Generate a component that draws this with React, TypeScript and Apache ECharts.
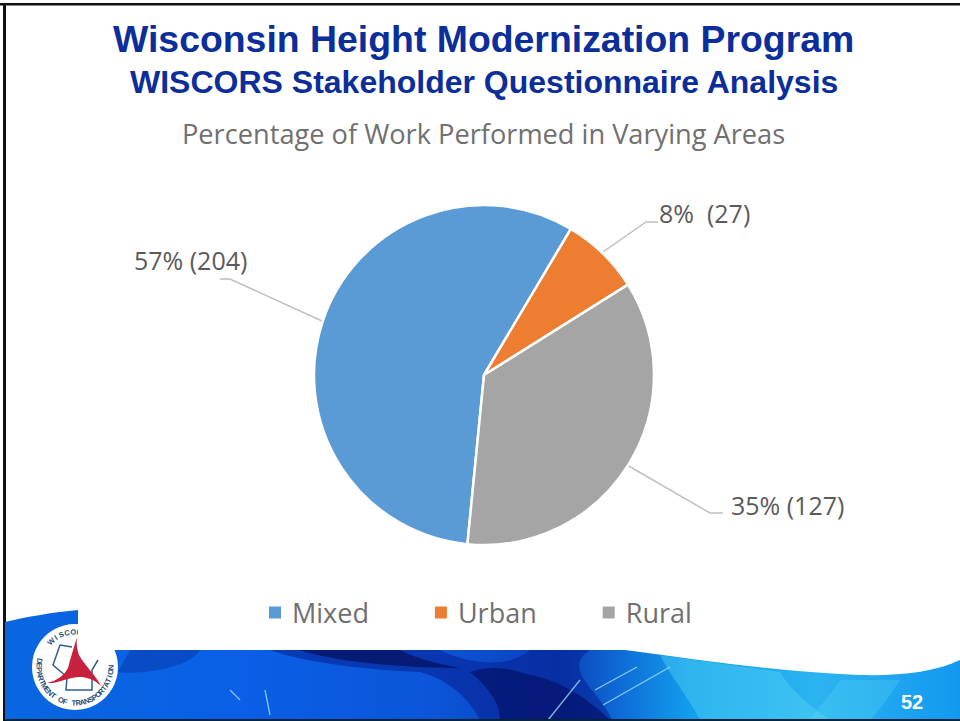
import React, { useEffect, useRef } from "react";
import * as echarts from "echarts";

const categories = ["Mixed", "Urban", "Rural"];
const counts = [204, 27, 127];
const percents = ["57% (204)", "8%  (27)", "35% (127)"];
const colors = ["#5B9BD5", "#ED7D31", "#A5A5A5"];
const titleLines = ["Wisconsin Height Modernization Program", "WISCORS Stakeholder Questionnaire Analysis"];
const subtitle = "Percentage of Work Performed in Varying Areas";
const pageNumber = "52";
const ringTop = "WISCONSIN";
const ringBottom = "DEPARTMENT OF TRANSPORTATION";

const W = 960;
const H = 721;
const wave = "M5 622 C25 617 55 612 78 610 L78 650 L625 650 C700 660 780 672 860 675 C900 676 935 672 960 660 L960 720 L5 720 Z";
const star = "M77 637 C73 650 70 660 68 668 C64 676 56 681 47 683 C58 684 70 676 82 677 C90 678 96 681 101 686 C96 675 84 665 79 655 C77 650 76 644 77 637 Z";
const wisconsin = "M60 645 L72 647 M60 645 L53 665 L67 677 L66 690 L92 690 L92 670 L98 660";
const darkBand = "M270 650 L440 650 C470 665 510 668 530 650 L590 650 C560 670 600 690 612 720 L480 720 C470 700 450 680 420 672 C370 670 310 664 270 650 Z";
const navyCore = "M300 650 L400 650 C420 660 440 664 460 668 C420 668 340 664 300 650 Z";
const navyCore2 = "M470 672 C490 665 510 668 530 675 C560 680 590 700 610 720 L500 720 C500 700 485 685 470 672 Z";
const midShade = "M130 650 L200 650 C190 668 140 675 118 672 Z";
const cyanPatch = "M660 655 L780 672 C790 690 815 710 830 720 L700 720 C690 700 670 675 660 655 Z";
const cyanPatch2 = "M840 680 L900 680 C890 695 880 710 870 720 L810 720 C820 705 835 690 840 680 Z";
echarts.graphic.registerShape("wave", (echarts.graphic as any).extendPath(wave, {}));
echarts.graphic.registerShape("star", (echarts.graphic as any).extendPath(star, {}));
echarts.graphic.registerShape("state", (echarts.graphic as any).extendPath(wisconsin, {}));
echarts.graphic.registerShape("darkBand", (echarts.graphic as any).extendPath(darkBand, {}));
echarts.graphic.registerShape("navyCore", (echarts.graphic as any).extendPath(navyCore, {}));
echarts.graphic.registerShape("navyCore2", (echarts.graphic as any).extendPath(navyCore2, {}));
echarts.graphic.registerShape("midShade", (echarts.graphic as any).extendPath(midShade, {}));
echarts.graphic.registerShape("cyanPatch", (echarts.graphic as any).extendPath(cyanPatch, {}));
echarts.graphic.registerShape("cyanPatch2", (echarts.graphic as any).extendPath(cyanPatch2, {}));

const streaks = [
  [[595, 690], [637, 667]],
  [[603, 705], [670, 667]],
  [[548, 720], [580, 680]],
  [[230, 690], [240, 700]],
  [[265, 690], [270, 715]],
];

const labelPlaces = [
  { x: 134, y: 260, line: [[322, 321], [230, 279], [220, 279]] },
  { x: 659, y: 213, line: [[603, 252], [646, 222], [658, 222]] },
  { x: 731, y: 505, line: [[627, 465], [710, 513], [723, 513]] },
];

function ringText(text: string, startDeg: number, stepDeg: number, radius: number, bottom: boolean) {
  return text.split("").map((ch, i) => {
    const deg = startDeg + i * stepDeg;
    const rad = (deg * Math.PI) / 180;
    return {
      type: "text",
      z: 12,
      x: 75 + radius * Math.sin(rad),
      y: 667 - radius * Math.cos(rad),
      rotation: bottom ? ((180 - deg) * Math.PI) / 180 : -rad,
      style: { text: ch, fill: "#1F4E79", font: "bold 7.5px 'Liberation Sans'", textAlign: "center", textVerticalAlign: "middle" },
    };
  });
}

export default function App() {
  const ref = useRef<HTMLDivElement>(null);
  useEffect(() => {
    document.body.style.margin = "0";
    const chart = echarts.init(ref.current!, null, { renderer: "svg" });
    chart.setOption({
      animation: false,
      backgroundColor: "#FFFFFF",
      title: [
        { text: titleLines[0], left: 108, top: 15, textStyle: { fontFamily: "Liberation Sans", fontWeight: "bold", fontSize: 37.4, color: "#0B2E9A" } },
        { text: titleLines[1], left: 125, top: 61, textStyle: { fontFamily: "Liberation Sans", fontWeight: "bold", fontSize: 32, color: "#0B2E9A" } },
        { text: subtitle, left: 177, top: 115, textStyle: { fontFamily: "Open Sans", fontWeight: "normal", fontSize: 27.2, color: "#707070" } },
      ],
      legend: {
        data: categories,
        left: 262,
        top: 594,
        icon: "rect",
        itemWidth: 14,
        itemHeight: 14,
        itemGap: 64,
        selectedMode: false,
        textStyle: { fontFamily: "Open Sans", fontSize: 27, color: "#6F6F6F", padding: [0, 0, 0, 5] },
      },
      graphic: [
        { type: "rect", z: 1, shape: { x: 0, y: 3, width: W, height: 2.5 }, style: { fill: "#111" } },
        { type: "rect", z: 1, shape: { x: 3, y: 3, width: 3, height: H - 3 }, style: { fill: "#111" } },
        {
          type: "wave",
          z: 2,
          style: {
            fill: new echarts.graphic.LinearGradient(0, 0, 1, 0, [
              { offset: 0, color: "#0A66E0" },
              { offset: 0.25, color: "#0A5FE6" },
              { offset: 0.45, color: "#0B55D8" },
              { offset: 0.58, color: "#0A3FB8" },
              { offset: 0.65, color: "#0F6FD8" },
              { offset: 0.72, color: "#12A0EC" },
              { offset: 0.85, color: "#2CB4F0" },
              { offset: 1, color: "#1398F0" },
            ]),
          },
        },
        { type: "midShade", z: 3, style: { fill: "rgba(5,35,140,0.35)" } },
        { type: "darkBand", z: 3, style: { fill: "rgba(6,35,150,0.6)" } },
        { type: "navyCore", z: 3, style: { fill: "rgba(4,15,90,0.7)" } },
        { type: "navyCore2", z: 3, style: { fill: "rgba(4,15,100,0.65)" } },
        { type: "cyanPatch", z: 3, style: { fill: "rgba(90,215,245,0.4)" } },
        { type: "cyanPatch2", z: 3, style: { fill: "rgba(90,215,245,0.3)" } },
        ...streaks.map((pts) => ({ type: "polyline", z: 4, shape: { points: pts }, style: { fill: "none", stroke: "rgba(170,235,250,0.75)", lineWidth: 1.3 } })),
        { type: "rect", z: 4, shape: { x: 6, y: 719, width: W - 6, height: 2 }, style: { fill: "#04243F" } },
        { type: "circle", z: 10, shape: { cx: 75, cy: 667, r: 43 }, style: { fill: "#FFFFFF" } },
        { type: "state", z: 11, style: { fill: "none", stroke: "#2F5F8F", lineWidth: 1.5 } },
        { type: "star", z: 11, style: { fill: "#C8203F" } },
        ...ringText(ringTop, -43, 10, 35, false),
        ...ringText(ringBottom, 280, -7, 36, true),
        { type: "rect", z: 13, shape: { x: 78, y: 600, width: 190, height: 50 }, style: { fill: "#FFFFFF" } },
        { type: "text", z: 14, x: 912, y: 702, style: { text: pageNumber, fill: "#FFFFFF", font: "bold 20px 'Liberation Sans'", textAlign: "center", textVerticalAlign: "middle" } },
      ],
      series: [
        {
          type: "pie",
          z: 5,
          center: [484, 375],
          radius: [0, 170],
          startAngle: 264.4,
          clockwise: true,
          data: categories.map((name, i) => ({ name, value: counts[i], itemStyle: { color: colors[i] } })),
          itemStyle: { borderColor: "#FFFFFF", borderWidth: 2.5 },
          label: {
            show: true,
            formatter: (p: any) => percents[p.dataIndex],
            fontFamily: "Open Sans",
            fontSize: 25,
            color: "#5A5A5A",
          },
          labelLine: { show: true, lineStyle: { color: "#BFBFBF", width: 1.5 } },
          labelLayout: (p: any) => ({
            x: labelPlaces[p.dataIndex].x,
            y: labelPlaces[p.dataIndex].y,
            align: "left",
            verticalAlign: "middle",
            labelLinePoints: labelPlaces[p.dataIndex].line,
          }),
          emphasis: { disabled: true },
        },
      ],
    });
    return () => chart.dispose();
  }, []);
  return <div ref={ref} style={{ position: "fixed", left: 0, top: 0, width: W, height: H }} />;
}
